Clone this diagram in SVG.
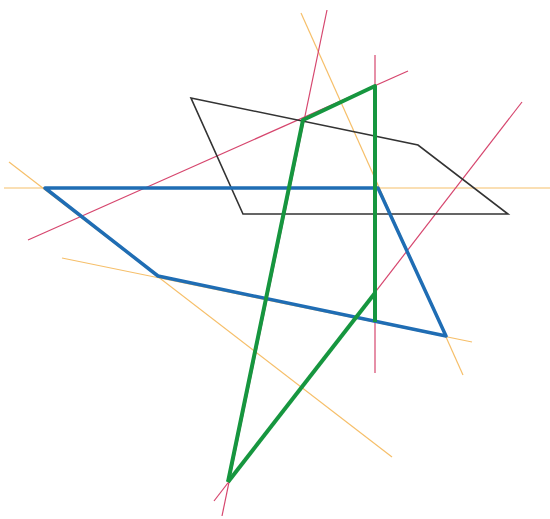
<svg xmlns="http://www.w3.org/2000/svg" width="550" height="519" viewBox="0 0 550 519">
<style>
.o{stroke:#f6bf6a;stroke-width:1.2;fill:none}
.r{stroke:#d6466e;stroke-width:1.2;fill:none}
.k{stroke:#333;stroke-width:1.6;fill:none;stroke-linejoin:miter}
.b{stroke:#1f6db4;stroke-width:3.5;fill:none;stroke-linejoin:round}
.g{stroke:#16963f;stroke-width:4;fill:none;stroke-linejoin:round}
</style>
<rect width="550" height="519" fill="#fff"/>
<g id="guides-orange">
<line class="o" x1="4" y1="188" x2="550" y2="188"/>
<line class="o" x1="301" y1="13" x2="463" y2="375"/>
<line class="o" x1="62" y1="258" x2="472" y2="342"/>
<line class="o" x1="9" y1="162" x2="392" y2="457"/>
</g>
<g id="guides-red">
<line class="r" x1="28" y1="240" x2="408" y2="71"/>
<line class="r" x1="375" y1="55" x2="375" y2="373"/>
<line class="r" x1="522" y1="102" x2="214" y2="501"/>
<line class="r" x1="327" y1="10" x2="222" y2="516"/>
</g>
<g id="black-quad">
<polygon class="k" points="191,98 418,145 508,214 243,214"/>
</g>
<g id="blue-quad">
<polygon class="b" points="45,188 378,188 446,336 158,276"/>
</g>
<g id="green-quad">
<polyline class="g" points="228,482 303,120 375,86 375,322"/>
<polyline class="g" points="375,293 228,482"/>
</g>
</svg>
